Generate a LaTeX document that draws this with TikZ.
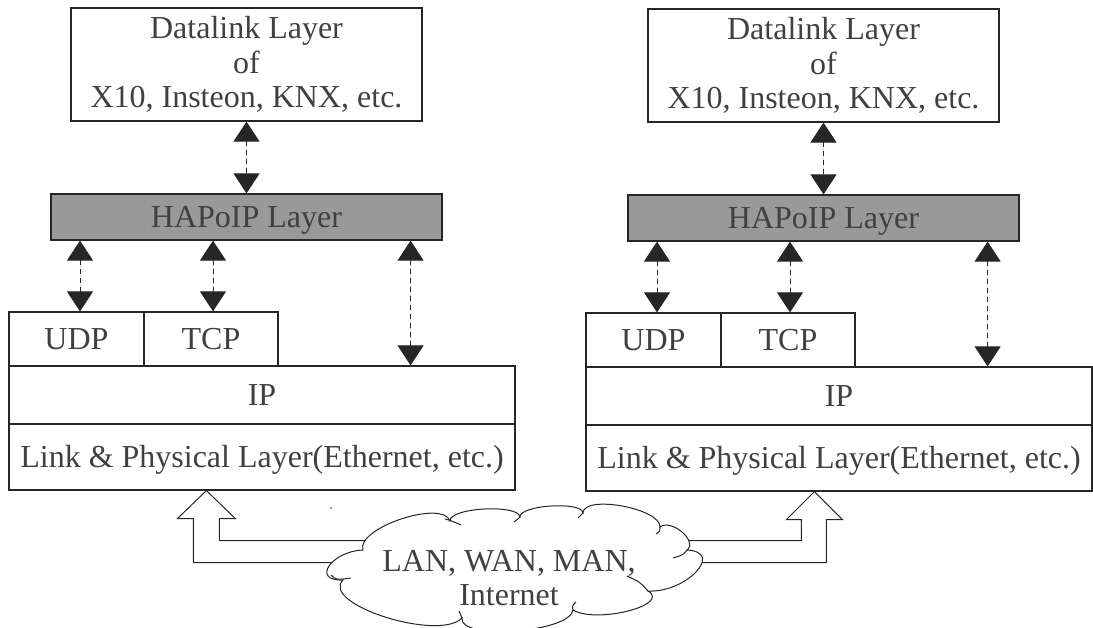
\documentclass[tikz,border=0pt]{standalone}
\usepackage{fontspec}
\setmainfont{Liberation Serif}
\usetikzlibrary{arrows.meta,calc}
\definecolor{txt}{HTML}{404040}
\definecolor{edge}{HTML}{262626}
\definecolor{hapfill}{HTML}{999999}

\begin{document}
\begin{tikzpicture}[x=1pt,y=-1pt,
  font=\fontsize{32}{34.5}\selectfont, text=txt,
  layer/.style={draw=edge, line width=1.2pt, rectangle, inner sep=0pt,
                text height=21pt, text depth=0pt},
  stackbox/.style={draw=edge, line width=1.2pt, rectangle, inner sep=0pt, align=center},
  dlink/.style={{Triangle[width=26pt,length=20pt]}-{Triangle[width=26pt,length=20pt]},
                dash pattern=on 5pt off 4pt, line width=1pt, draw=edge, fill=black},
  hollow/.style={draw=edge, line width=1pt, line join=miter},
  cloudline/.style={draw=edge, line width=1pt}]
\useasboundingbox (0,0) rectangle (1093,627);

% two protocol stacks, the second one shifted to the right
\foreach \s/\dx/\dy in {L/0/0,R/577/1}{
  \begin{scope}[shift={(\dx,\dy)}]
    \node[stackbox, minimum width=351pt, minimum height=113pt] (dl\s) at (246.5,64.5)
      {Datalink Layer\\of\\X10, Insteon, KNX, etc.};
    \node[layer, fill=hapfill, minimum width=391pt, minimum height=46pt] (hap\s) at (246.5,217)
      {HAPoIP Layer};
    \node[layer, minimum width=135pt, minimum height=54pt] (udp\s) at (76.5,339) {UDP};
    \node[layer, minimum width=134pt, minimum height=54pt] (tcp\s) at (211,339) {TCP};
    \node[layer, minimum width=506pt, minimum height=58pt] (ip\s) at (262,395) {IP};
    \node[layer, minimum width=506pt, minimum height=66pt] (link\s) at (262,457)
      {Link \& Physical Layer(Ethernet, etc.)};

    \draw[dlink] (dl\s.south) -- (hap\s.north);
    \draw[dlink] (hap\s.south -| {$(udp\s.north)+(3.5,0)$}) -- ($(udp\s.north)+(3.5,0)$);
    \draw[dlink] (hap\s.south -| {$(tcp\s.north)+(2,0)$}) -- ($(tcp\s.north)+(2,0)$);
    \coordinate (ipa\s) at ($(hap\s.south east)+(-32,0)$);
    \draw[dlink] (ipa\s) -- (ipa\s |- ip\s.north);
  \end{scope}
}

% centre of the network cloud
\coordinate (netc) at (509,578);

% hollow arrows from the network up to both link layers
\coordinate (ltip) at ($(linkL.south west)+(198,0)$);
\coordinate (lin) at ($(ltip)+(13,50)$);
\coordinate (lout) at ($(ltip)+(-13,72)$);
\coordinate (rtip) at ($(linkR.south west)+(229,0)$);
\coordinate (rin) at ($(rtip)+(-13,49)$);
\coordinate (rout) at ($(rtip)+(12,71)$);
\draw[hollow] (netc |- lin) -- (lin) -- ++(0,-22) -- ++(16,0) -- (ltip)
  -- ++(-29,28) -- ++(16,0) -- (lout) -- (netc |- lout);
\draw[hollow] (netc |- rin) -- (rin) -- ++(0,-21) -- ++(-15,0) -- (rtip)
  -- ++(28,28) -- ++(-16,0) -- (rout) -- (netc |- rout);

% the cloud, filled so that it hides the arrow ends
\draw[cloudline, fill=white]
  (343,580) .. controls (311,581.3) and (331,551.3) .. (363,550)
  .. controls (355.7,528) and (442.7,499) .. (450,521)
  .. controls (448.7,507.7) and (518.7,503.7) .. (520,517)
  .. controls (519.3,505) and (582.3,501) .. (583,513)
  .. controls (583.7,494.3) and (660.7,508.3) .. (660,527)
  .. controls (671.3,518.3) and (698.3,541.3) .. (687,550)
  .. controls (725,552) and (686,593) .. (648,591)
  .. controls (671.3,605) and (596.3,624) .. (573,610)
  .. controls (569.7,632.7) and (458.7,640.7) .. (462,618)
  .. controls (438.7,642) and (319.7,604) .. (343,580) -- cycle;
% short inner arcs where the puffs overlap
\draw[cloudline] (331,575) .. controls (336,580) .. (351,578);
\draw[cloudline] (445,519) .. controls (452,521) .. (461,525);
\draw[cloudline] (520,517) .. controls (518,519) .. (514,522);
\draw[cloudline] (583,513) .. controls (581,515) .. (578,518);
\draw[cloudline] (660,527) .. controls (660,531) .. (656,534);
\draw[cloudline] (687,550) .. controls (683,555) .. (673,558);
\draw[cloudline] (648,591) .. controls (640,582) .. (627,576);
\draw[cloudline] (573,610) .. controls (572,606) .. (576,602);
\draw[cloudline] (462,618) .. controls (461,615) .. (459,611);

% network label
\node[align=center, inner sep=0pt] (netlbl) at (netc) {LAN, WAN, MAN,\\Internet};

\fill[edge] (331,508) circle (0.9pt);
\end{tikzpicture}
\end{document}
